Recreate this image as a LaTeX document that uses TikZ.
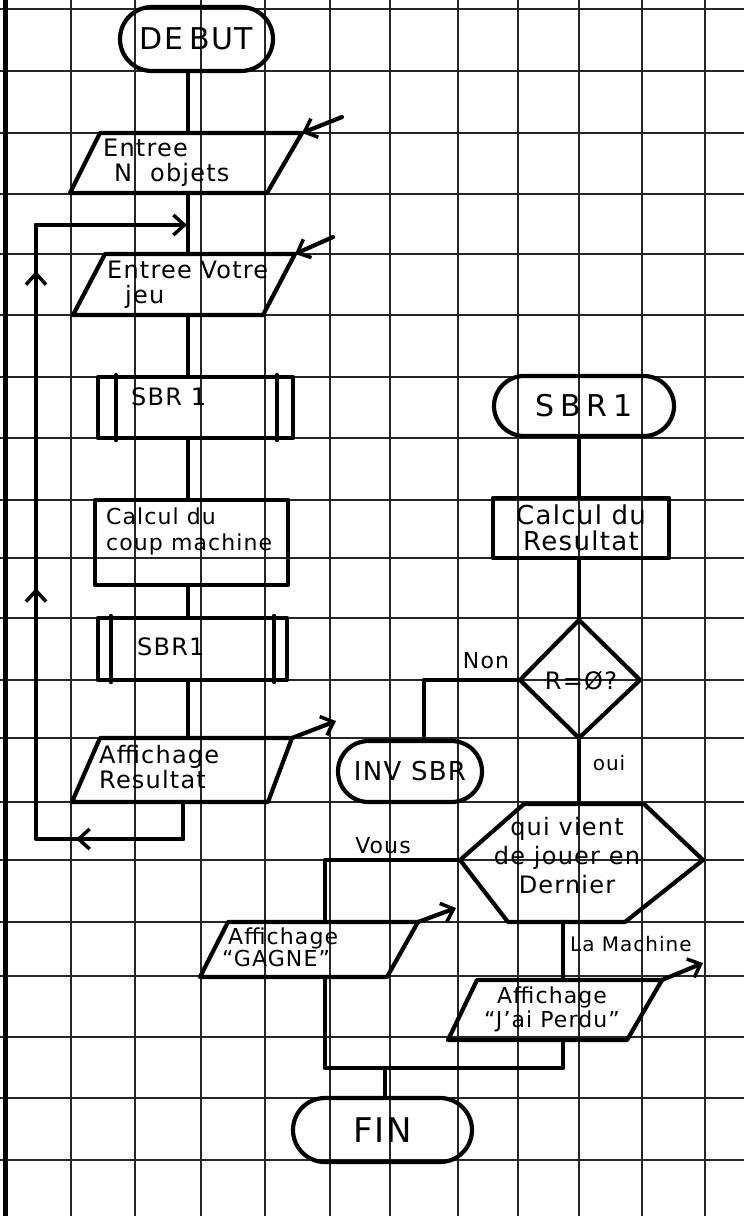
\documentclass[tikz,border=0pt]{standalone}
\usepackage{fontspec}
\setmainfont{DejaVu Sans}[LetterSpace=5]
\usetikzlibrary{arrows.meta,shapes.misc}
\begin{document}
\begin{tikzpicture}[x=1pt,y=-1pt,
  flow/.style={line width=4.2pt, line join=round, line cap=round},
  gridl/.style={line width=1.2pt, black!85},
  shp/.style={draw, line width=4.2pt, line join=round},
  term/.style={shp, rounded rectangle, inner sep=0pt},
  box/.style={shp, rectangle, inner sep=0pt},
  lbl/.style={inner sep=0pt, align=left, font=\fontsize{24}{25}\selectfont},
  small/.style={inner sep=0pt, font=\fontsize{22}{24}\selectfont},
  arr/.style={flow, -{Straight Barb[length=11pt,width=20pt,line width=3.5pt]}}
]
\fill[white] (0,0) rectangle (744,1216);
\useasboundingbox (0,0) rectangle (744,1216);
% squared paper
\foreach \x in {71,135,201,265,330,390,458,518,579,642,705}
  \draw[gridl] (\x,0) -- (\x,1216);
\foreach \y in {9,71,133,194,254,315,377,438,500,558,618,680,738,802,860,922,976,1037,1098,1160}
  \draw[gridl] (0,\y) -- (744,\y);
\draw[line width=5pt] (5,0) -- (5,1216);

% ---------------- left column ----------------
\coordinate (colL) at (188,0);
\node[term, minimum width=153pt, minimum height=64pt, font=\fontsize{30}{30}\selectfont] (debut) at (196.5,39) {DE\hspace{6pt}BUT};

% input 1
\coordinate (p1bl) at (70,193); \coordinate (p1tl) at (100,133);
\coordinate (p1tr) at (302,133); \coordinate (p1br) at (267,193);
\coordinate (p1t) at (188,133); \coordinate (p1b) at (188,193);
\draw[shp] (p1bl) -- (p1tl) -- (p1tr) -- (p1br) -- cycle;
\node[lbl, anchor=north west] (p1) at (103,139) {Entree\\\hspace*{11pt}N\hspace{18pt}objets};
\coordinate (in1) at (342,117);
\draw[arr] (in1) -- (p1tr);

% input 2
\coordinate (p2bl) at (73,315); \coordinate (p2tl) at (105,254);
\coordinate (p2tr) at (295,254); \coordinate (p2br) at (263,315);
\coordinate (p2t) at (188,254); \coordinate (p2b) at (188,315);
\draw[shp] (p2bl) -- (p2tl) -- (p2tr) -- (p2br) -- cycle;
\node[lbl, anchor=north west] (p2) at (107,261) {Entree Votre\\\hspace*{18pt}jeu};
\coordinate (in2) at (333,237);
\draw[arr] (in2) -- (p2tr);

% SBR 1 (first call)
\node[box, minimum width=195pt, minimum height=61pt] (sbra) at (195.5,407.5) {};
\draw[flow] ([xshift=20pt]sbra.north west) -- ([xshift=20pt]sbra.south west);
\draw[flow] ([xshift=-18pt]sbra.north east) -- ([xshift=-18pt]sbra.south east);
\node[lbl, anchor=west] (sbraT) at (131,397) {SBR 1};

% calcul du coup machine
\node[box, minimum width=193pt, minimum height=85pt] (calc) at (191.5,542.5) {};
\node[inner sep=0pt, align=left, anchor=north west, font=\fontsize{22}{26}\selectfont] (calcT) at (106,508) {Calcul du\\coup machine};

% SBR1 (second call)
\node[box, minimum width=189pt, minimum height=62pt] (sbrb) at (192.5,649) {};
\draw[flow] ([xshift=15pt]sbrb.north west) -- ([xshift=15pt]sbrb.south west);
\draw[flow] ([xshift=-15pt]sbrb.north east) -- ([xshift=-15pt]sbrb.south east);
\node[lbl, anchor=west] (sbrbT) at (137,647) {SBR1};

% output resultat
\coordinate (p3bl) at (72,802); \coordinate (p3tl) at (100,738);
\coordinate (p3tr) at (292,738); \coordinate (p3br) at (268,802);
\coordinate (p3t) at (188,738); \coordinate (p3b) at (183,802);
\draw[shp] (p3bl) -- (p3tl) -- (p3tr) -- (p3br) -- cycle;
\node[lbl, anchor=north west] (p3) at (99,745) {Affichage\\Resultat};
\coordinate (out1) at (336,721);
\draw[arr] (p3tr) -- (out1);

% column connectors
\draw[flow] (debut.south -| colL) -- (p1t);
\draw[flow] (p1b) -- (p2t);
\draw[flow] (p2b) -- (sbra.north -| colL);
\draw[flow] (sbra.south -| colL) -- (calc.north -| colL);
\draw[flow] (calc.south -| colL) -- (sbrb.north -| colL);
\draw[flow] (sbrb.south -| colL) -- (p3t);

% loop back
\coordinate (lp1) at (183,839); \coordinate (lp2) at (36,839);
\coordinate (lp3) at (36,225); \coordinate (lp4) at (187,225);
\coordinate (lpa) at (76,839);
\draw[flow] (p3b) -- (lp1) -- (lp2) -- (lp3);
\draw[arr] (lp3) -- (lp4);
\draw[arr] (lp1) -- (lpa);
\coordinate (up1s) at (36,615); \coordinate (up1) at (36,588);
\coordinate (up2s) at (36,300); \coordinate (up2) at (36,271);
\draw[arr] (up1s) -- (up1);
\draw[arr] (up2s) -- (up2);

% ---------------- right column ----------------
\coordinate (colR) at (579,0);
\node[term, minimum width=180pt, minimum height=60pt, font=\fontsize{30}{30}\selectfont] (sbrT) at (584,406) {S\hspace{6pt}B\hspace{6pt}R\hspace{6pt}1};
\node[box, minimum width=176pt, minimum height=60pt, align=center, font=\fontsize{26}{26}\selectfont] (calcR) at (581,528) {Calcul du\\Resultat};
\draw[flow] (sbrT.south -| colR) -- (calcR.north -| colR);

% decision R = 0 ?
\coordinate (dT) at (579,620); \coordinate (dL) at (520,680);
\coordinate (dR) at (640,680); \coordinate (dB) at (579,738);
\draw[shp] (dT) -- (dR) -- (dB) -- (dL) -- cycle;
\node[lbl] (dtxt) at (581,681) {R=Ø?};
\draw[flow] (calcR.south -| colR) -- (dT);

% Non -> INV SBR
\node[small] (non) at (486,661) {Non};
\node[term, minimum width=144pt, minimum height=61pt, font=\fontsize{26}{26}\selectfont] (inv) at (410,771.5) {INV SBR};
\coordinate (nc) at (424,680);
\draw[flow] (dL) -- (nc) -- (nc |- inv.north);

% oui -> qui vient de jouer en dernier
\coordinate (hL) at (460,860); \coordinate (hTL) at (524,804);
\coordinate (hTR) at (644,804); \coordinate (hR) at (703,860);
\coordinate (hBR) at (625,922); \coordinate (hBL) at (508,922);
\coordinate (hT) at (579,804); \coordinate (hB) at (563,922);
\draw[flow] (dB) -- (hT);
\node[inner sep=0pt, font=\fontsize{20}{22}\selectfont] (oui) at (609,763) {oui};
\draw[shp] (hL) -- (hTL) -- (hTR) -- (hR) -- (hBR) -- (hBL) -- cycle;
\node[inner sep=0pt, align=center, font=\fontsize{24}{29}\selectfont] (htxt) at (567,856) {qui vient\\de jouer en\\Dernier};

% Vous -> Affichage GAGNE
\node[small] (vous) at (383,846) {Vous};
\coordinate (vc) at (325,860);
\coordinate (g1bl) at (200,977); \coordinate (g1tl) at (228,922);
\coordinate (g1tr) at (418,922); \coordinate (g1br) at (387,977);
\coordinate (g1t) at (325,922); \coordinate (g1b) at (325,977);
\draw[flow] (hL) -- (vc) -- (g1t);
\draw[shp] (g1bl) -- (g1tl) -- (g1tr) -- (g1br) -- cycle;
\node[inner sep=0pt, align=left, anchor=north west, font=\fontsize{22}{22}\selectfont] (g1) at (222,928) {\hspace*{6pt}Affichage\\“GAGNE”};
\coordinate (out2) at (456,908);
\draw[arr] (g1tr) -- (out2);

% La Machine -> Affichage J'ai perdu
\node[inner sep=0pt, anchor=west, font=\fontsize{20}{22}\selectfont] (mach) at (570,944) {La Machine};
\coordinate (g2bl) at (448,1040); \coordinate (g2tl) at (477,980);
\coordinate (g2tr) at (662,980); \coordinate (g2br) at (627,1040);
\coordinate (g2t) at (563,980); \coordinate (g2b) at (563,1040);
\draw[flow] (hB) -- (g2t);
\draw[shp] (g2bl) -- (g2tl) -- (g2tr) -- (g2br) -- cycle;
\node[inner sep=0pt, align=center, font=\fontsize{22}{24}\selectfont] (g2) at (552,1009) {Affichage\\“J'ai Perdu”};
\coordinate (out3) at (703,963);
\draw[arr] (g2tr) -- (out3);

% join and FIN
\coordinate (jl) at (325,1068); \coordinate (jr) at (563,1068); \coordinate (jm) at (385,1068);
\node[term, minimum width=179pt, minimum height=64pt, font=\fontsize{34}{34}\selectfont] (fin) at (382.5,1130) {FIN};
\draw[flow] (g1b) -- (jl) -- (jr) -- (g2b);
\draw[flow] (jm) -- (jm |- fin.north);
\end{tikzpicture}
\end{document}
